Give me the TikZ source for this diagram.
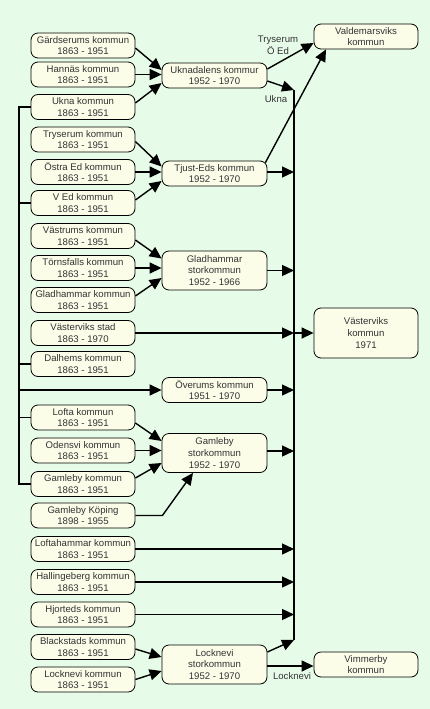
\documentclass[tikz,border=0pt]{standalone}
\usepackage{fontspec}
\setmainfont{Liberation Sans}
\usetikzlibrary{arrows.meta,calc}
\definecolor{bg}{HTML}{E6FCE8}
\definecolor{nodefill}{HTML}{FCFDE9}
\definecolor{txt}{HTML}{333333}
\begin{document}
\begin{tikzpicture}[x=1pt,y=1pt,
 box/.style={draw=black, line width=0.8pt, fill=nodefill, rounded corners=7pt, minimum width=104pt, minimum height=25pt, inner sep=0pt, align=center, text=txt, font=\fontsize{9.6}{11.8}\selectfont},
 mid/.style={box, minimum width=105pt},
 tall/.style={minimum height=39pt},
 vtall/.style={minimum height=50pt},
 link/.style={line width=1.4pt, draw=black},
 arr/.style={link, -{Triangle[length=12pt,width=11pt]}},
 lab/.style={text=txt, font=\fontsize{9.6}{11.8}\selectfont, inner sep=0pt, align=center}]
\path[fill=bg] (0,0) rectangle (430,-709);
% left column
\node[box] (gard) at (83,-45.5) {Gärdserums kommun\\1863 - 1951};
\node[box] (hann) at (83,-74.5) {Hannäs kommun\\1863 - 1951};
\node[box] (ukna) at (83,-107) {Ukna kommun\\1863 - 1951};
\node[box] (trys) at (83,-139.5) {Tryserum kommun\\1863 - 1951};
\node[box] (ostra) at (83,-172) {Östra Ed kommun\\1863 - 1951};
\node[box] (ved) at (83,-203) {V Ed kommun\\1863 - 1951};
\node[box] (vastr) at (83,-236) {Västrums kommun\\1863 - 1951};
\node[box] (torn) at (83,-268) {Törnsfalls kommun\\1863 - 1951};
\node[box] (gladk) at (83,-300) {Gladhammar kommun\\1863 - 1951};
\node[box] (vstad) at (83,-333) {Västerviks stad\\1863 - 1970};
\node[box] (dalh) at (83,-364) {Dalhems kommun\\1863 - 1951};
\node[box] (lofta) at (83,-417.5) {Lofta kommun\\1863 - 1951};
\node[box] (odens) at (83,-450.5) {Odensvi kommun\\1863 - 1951};
\node[box] (gamk) at (83,-484) {Gamleby kommun\\1863 - 1951};
\node[box] (gamkop) at (83,-515.5) {Gamleby Köping\\1898 - 1955};
\node[box] (lofth) at (83,-549) {Loftahammar kommun\\1863 - 1951};
\node[box] (hall) at (83,-582) {Hallingeberg kommun\\1863 - 1951};
\node[box] (hjort) at (83,-614.5) {Hjorteds kommun\\1863 - 1951};
\node[box] (black) at (83,-647) {Blackstads kommun\\1863 - 1951};
\node[box] (lockk) at (83,-679.5) {Locknevi kommun\\1863 - 1951};
% middle column
\node[mid] (ukn) at (214.5,-75.5) {Uknadalens kommur\\1952 - 1970};
\node[mid] (tju) at (214.5,-173.5) {Tjust-Eds kommun\\1952 - 1970};
\node[mid,tall] (gladsk) at (214.5,-270.5) {Gladhammar\\storkommun\\1952 - 1966};
\node[mid] (overum) at (214.5,-390) {Överums kommun\\1951 - 1970};
\node[mid,tall] (gamsk) at (214.5,-453) {Gamleby\\storkommun\\1952 - 1970};
\node[mid,tall] (locksk) at (214.5,-664.5) {Locknevi\\storkommun\\1952 - 1970};
% right column
\node[box] (vald) at (366,-36.5) {Valdemarsviks\\kommun};
\node[box,vtall] (vkom) at (366,-333) {Västerviks\\kommun\\1971};
\node[box] (vimm) at (366,-664.5) {Vimmerby\\kommun};
% bus coordinates
\coordinate (L) at (19,0);
\coordinate (R) at (294,0);
\coordinate (rtop) at (294,-90);
\coordinate (rbot) at (294,-640);
\coordinate (tjuE) at ($(tju.east)+(0,1.5)$);
\coordinate (gamE) at ($(gamsk.east)+(0,2)$);
\coordinate (lockE) at ($(locksk.east)+(0,-1.5)$);
% left bus
\draw[link] (ukna.west) -- (ukna.west -| L) -- (gamk.west -| L) -- (gamk.west);
\draw[link] (ved.west) -- (ved.west -| L);
\draw[link] (dalh.west) -- (dalh.west -| L);
\draw[link] (lofta.west) -- (lofta.west -| L);
\draw[arr] (overum.west -| L) -- (overum.west);
% left -> middle
\draw[arr] ($(gard.east)+(0,-2.5)$) -- ($(ukn.west)+(0,5.5)$);
\draw[arr] (hann.east) -- (hann.east -| ukn.west);
\draw[arr] ($(ukna.east)+(0,4)$) -- ($(ukn.west)+(0,-7.5)$);
\draw[arr] ($(trys.east)+(0,-2)$) -- ($(tju.west)+(0,7)$);
\draw[arr] (ostra.east) -- (ostra.east -| tju.west);
\draw[arr] ($(ved.east)+(0,3)$) -- ($(tju.west)+(0,-7.5)$);
\draw[arr] ($(vastr.east)+(0,-4)$) -- ($(gladsk.west)+(0,12)$);
\draw[arr] (torn.east) -- (torn.east -| gladsk.west);
\draw[arr] ($(gladk.east)+(0,4)$) -- ($(gladsk.west)+(0,-7.5)$);
\draw[arr] ($(lofta.east)+(0,-5.5)$) -- ($(gamsk.west)+(0,12)$);
\draw[arr] (odens.east) -- (odens.east -| gamsk.west);
\draw[arr] ($(gamk.east)+(0,6)$) -- ($(gamsk.west)+(0,-10)$);
\draw[arr] (gamkop.east) -- ++(27,0) -- ($(gamsk.south)+(-21.5,0)$);
\draw[arr] ($(black.east)+(0,-2)$) -- ($(locksk.west)+(0,7.5)$);
\draw[arr] (lockk.east) -- ($(locksk.west)+(0,-6.5)$);
% right bus
\draw[link] (rtop) -- (rbot);
\draw[arr] ($(ukn.east)+(0,-5.5)$) -- (rtop);
\draw[arr] ($(ukn.east)+(0,6.5)$) -- ($(vald.west)+(0,-6.5)$);
\draw[arr] ($(tju.north east)+(-2,-2)$) -- ($(vald.south)+(-40,0)$);
\draw[arr] (tjuE) -- (tjuE -| R);
\draw[arr] (gladsk.east) -- (gladsk.east -| R);
\draw[arr] (vstad.east) -- (vstad.east -| R);
\draw[arr] (vstad.east -| R) -- (vkom.west);
\draw[arr] (overum.east) -- (overum.east -| R);
\draw[arr] (gamE) -- (gamE -| R);
\draw[arr] (lofth.east) -- (lofth.east -| R);
\draw[arr] (hall.east) -- (hall.east -| R);
\draw[arr] (hjort.east) -- (hjort.east -| R);
\draw[arr] ($(locksk.east)+(0,12.5)$) -- (rbot);
\draw[arr] (lockE) -- (lockE -| vimm.west);
% labels
\node[lab] (lty) at (278,-45) {Tryserum\\Ö Ed};
\node[lab] (luk) at (276,-99) {Ukna};
\node[lab] (llo) at (292,-676) {Locknevi};
\end{tikzpicture}
\end{document}
